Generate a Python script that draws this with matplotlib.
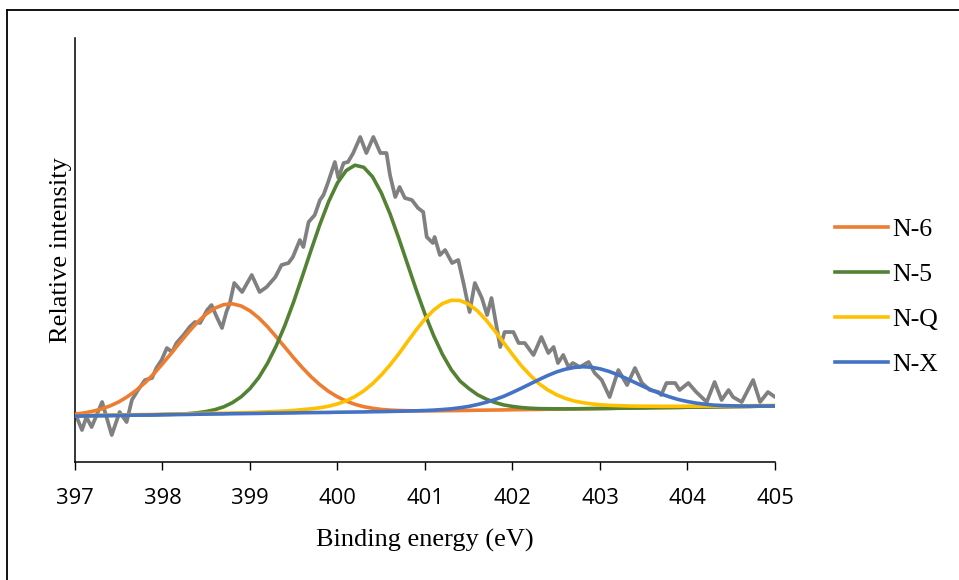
import matplotlib
matplotlib.use("Agg")
import matplotlib.pyplot as plt
import numpy as np
from matplotlib.lines import Line2D

# measured spectrum (binding energy, intensity in arbitrary units)
raw_energy = [
    397.00, 397.08, 397.13, 397.19, 397.31, 397.42, 397.51, 397.59, 397.65, 397.72,
    397.80, 397.88, 397.93, 397.99, 398.05, 398.11, 398.16, 398.24, 398.31, 398.37,
    398.43, 398.51, 398.56, 398.62, 398.68, 398.73, 398.77, 398.82, 398.91, 399.02,
    399.11, 399.19, 399.29, 399.36, 399.44, 399.49, 399.57, 399.61, 399.67, 399.74,
    399.80, 399.84, 399.89, 399.97, 400.01, 400.07, 400.12, 400.18, 400.26, 400.33,
    400.41, 400.49, 400.56, 400.60, 400.66, 400.71, 400.77, 400.85, 400.92, 400.98,
    401.02, 401.09, 401.11, 401.17, 401.23, 401.31, 401.38, 401.44, 401.51, 401.57,
    401.65, 401.71, 401.76, 401.86, 401.91, 402.01, 402.07, 402.14, 402.24, 402.33,
    402.41, 402.47, 402.52, 402.58, 402.64, 402.69, 402.77, 402.87, 402.94, 403.02,
    403.11, 403.21, 403.31, 403.40, 403.48, 403.57, 403.67, 403.70, 403.76, 403.86,
    403.91, 404.01, 404.10, 404.22, 404.31, 404.39, 404.47, 404.52, 404.62, 404.75,
    404.83, 404.92, 405.00,
]
raw_intensity = [
    49, 32, 45, 35, 60, 27, 50, 40, 62, 72,
    82, 84, 94, 102, 114, 110, 119, 127, 135, 140,
    139, 152, 157, 145, 134, 150, 159, 179, 170, 187,
    170, 175, 185, 197, 199, 205, 222, 215, 240, 247,
    262, 267, 279, 300, 284, 299, 300, 309, 325, 309,
    325, 309, 309, 287, 265, 275, 264, 262, 254, 250,
    225, 219, 225, 207, 212, 199, 202, 179, 150, 179,
    164, 147, 164, 115, 130, 130, 119, 119, 107, 125,
    109, 115, 99, 107, 95, 99, 95, 100, 89, 82,
    65, 92, 77, 94, 79, 72, 70, 67, 79, 79,
    72, 79, 70, 60, 80, 62, 72, 65, 60, 82,
    60, 70, 65,
]

# fitted components, sampled every 0.1 eV from 397 to 405
fit_energy = np.linspace(397.0, 405.0, 81)

n6 = [
    47.9, 49.0, 50.7, 53.0, 56.1, 60.1, 65.4, 71.7, 79.3, 88.2,
    98.2, 108.7, 119.6, 130.1, 139.9, 148.0, 153.9, 157.4, 158.2, 156.0,
    151.2, 144.1, 135.3, 125.2, 114.7, 104.1, 94.2, 85.1, 77.2, 70.5,
    65.2, 60.9, 57.7, 55.3, 53.8, 52.6, 51.9, 51.5, 51.3, 51.2,
    51.2, 51.2, 51.3, 51.4, 51.5, 51.6, 51.8, 51.9, 52.0, 52.1,
    52.3, 52.4, 52.5, 52.6, 52.8, 52.9, 53.0, 53.1, 53.3, 53.4,
    53.5, 53.6, 53.8, 53.9, 54.0, 54.1, 54.3, 54.4, 54.5, 54.6,
    54.8, 54.9, 55.0, 55.1, 55.3, 55.4, 55.5, 55.6, 55.8, 55.9,
    56.0,
]
n5 = [
    46.0, 46.1, 46.3, 46.4, 46.5, 46.6, 46.8, 46.9, 47.0, 47.1,
    47.4, 47.6, 47.9, 48.4, 49.3, 50.5, 52.4, 55.2, 59.4, 65.3,
    73.5, 84.4, 98.7, 116.2, 136.9, 160.4, 186.1, 212.4, 237.8, 260.6,
    279.1, 291.5, 296.8, 294.7, 285.3, 269.3, 248.3, 223.9, 198.0, 172.2,
    147.9, 126.2, 107.6, 92.4, 81.0, 73.6, 67.3, 62.9, 59.5, 57.1,
    55.6, 54.5, 53.8, 53.4, 53.3, 53.2, 53.2, 53.2, 53.3, 53.4,
    53.5, 53.6, 53.8, 53.9, 54.0, 54.1, 54.3, 54.4, 54.5, 54.6,
    54.8, 54.9, 55.0, 55.1, 55.3, 55.4, 55.5, 55.6, 55.8, 55.9,
    56.0,
]
nq = [
    46.3, 46.4, 46.6, 46.7, 46.9, 47.0, 47.2, 47.4, 47.5, 47.6,
    47.9, 48.0, 48.1, 48.3, 48.5, 48.6, 48.8, 48.9, 49.1, 49.3,
    49.5, 49.8, 50.2, 50.6, 51.0, 51.6, 52.4, 53.2, 54.3, 55.8,
    58.1, 61.2, 65.5, 71.1, 78.3, 86.9, 97.0, 108.1, 120.3, 132.1,
    143.0, 152.0, 158.5, 161.7, 161.5, 157.8, 151.1, 141.8, 130.9, 119.2,
    107.5, 96.4, 87.0, 78.6, 72.3, 67.4, 63.8, 61.1, 59.4, 58.2,
    57.3, 56.7, 56.4, 56.1, 55.9, 55.8, 55.8, 55.7, 55.7, 55.7,
    55.8, 55.8, 55.9, 55.9, 56.1, 56.1, 56.2, 56.3, 56.4, 56.5,
    56.6,
]
nx = [
    46.0, 46.1, 46.3, 46.4, 46.5, 46.6, 46.8, 46.9, 47.0, 47.1,
    47.3, 47.4, 47.5, 47.6, 47.8, 47.9, 48.0, 48.1, 48.3, 48.4,
    48.5, 48.6, 48.8, 48.9, 49.0, 49.1, 49.3, 49.4, 49.5, 49.6,
    49.8, 49.9, 50.0, 50.1, 50.3, 50.4, 50.6, 50.8, 51.0, 51.2,
    51.5, 51.9, 52.5, 53.2, 54.3, 55.6, 57.5, 59.7, 62.5, 65.7,
    69.6, 73.7, 78.0, 82.3, 86.4, 90.0, 92.7, 94.5, 95.3, 94.8,
    93.2, 90.7, 87.4, 83.6, 79.5, 75.4, 71.6, 68.0, 65.0, 62.4,
    60.5, 58.9, 57.8, 56.9, 56.5, 56.2, 56.0, 55.9, 56.0, 56.0,
    56.1,
]

components = [
    ("N-6", n6, "#ED7D31"),
    ("N-5", n5, "#548235"),
    ("N-Q", nq, "#FFC000"),
    ("N-X", nx, "#4472C4"),
]
x_ticks = [397, 398, 399, 400, 401, 402, 403, 404, 405]

SERIF = ["Liberation Serif", "DejaVu Serif"]
TICK_FONT = ["Open Sans", "DejaVu Sans"]

fig = plt.figure(figsize=(9.59, 5.80), dpi=100)
ax = fig.add_axes([0.0782, 0.2034, 0.7299, 0.7311])

ax.plot(raw_energy, raw_intensity, color="#808080", lw=2.7,
        solid_joinstyle="round", solid_capstyle="round", zorder=2)

handles = []
for i, (name, values, color) in enumerate(components):
    (line,) = ax.plot(fit_energy, values, color=color, lw=2.6,
                      solid_joinstyle="round", label=name, zorder=3 + i)
    handles.append(line)

ax.set_xlim(397, 405)
ax.set_ylim(0, 424)
ax.set_xticks(x_ticks)
ax.set_xticklabels([str(t) for t in x_ticks], family=TICK_FONT, fontsize=15.8)
ax.set_yticks([])
ax.tick_params(axis="x", length=6, width=1.0, pad=13, color="black")

for side in ("top", "right"):
    ax.spines[side].set_visible(False)
ax.spines["left"].set_linewidth(1.1)
ax.spines["bottom"].set_linewidth(1.1)

ax.set_xlabel("Binding energy (eV)", family=SERIF, fontsize=19)
ax.xaxis.set_label_coords(0.5, -0.157)
ax.set_ylabel("Relative intensity", family=SERIF, fontsize=19)
ax.yaxis.set_label_coords(-0.004, 0.5)

ax.legend(handles=handles, loc="upper left",
          bbox_to_anchor=(835 / 959, 1 - 218 / 580),
          bbox_transform=fig.transFigure, frameon=False,
          prop={"family": SERIF, "size": 18.5}, handlelength=2.06,
          handletextpad=0.18, labelspacing=0.86, borderpad=0,
          borderaxespad=0)

# chart-area border (cut off at the right and bottom in the original)
fig.add_artist(Line2D([0.007, 1.0], [0.9828, 0.9828], color="black",
                      lw=1.3, transform=fig.transFigure))
fig.add_artist(Line2D([0.007, 0.007], [0.0, 0.9828], color="black",
                      lw=1.3, transform=fig.transFigure))

fig.savefig("out.png", dpi=100)
